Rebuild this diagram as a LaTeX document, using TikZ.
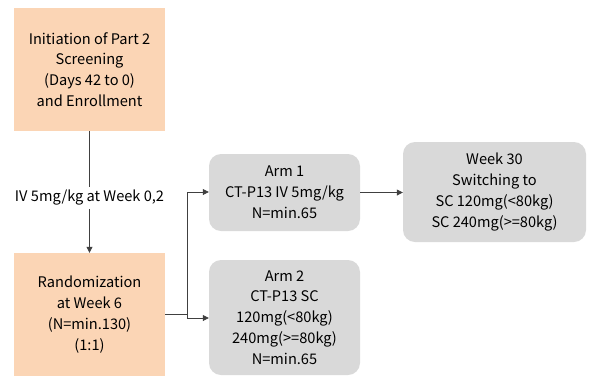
\documentclass[tikz,border=0pt]{standalone}
\usepackage{fontspec}
\setmainfont{Noto Sans CJK KR}
\usetikzlibrary{arrows.meta}
\definecolor{peach}{HTML}{FBD5B5}
\definecolor{lgray}{HTML}{D9D9D9}
\definecolor{linec}{HTML}{404040}
\begin{document}
\begin{tikzpicture}[x=1pt,y=-1pt,
  every node/.style={font=\fontsize{14.6}{20.8}\selectfont, align=center, text=black},
  peachbox/.style={fill=peach, draw=none, inner sep=0pt},
  graybox/.style={fill=lgray, draw=none, rounded corners=12pt, inner sep=0pt},
  conn/.style={draw=linec, line width=0.8pt},
  arr/.style={conn, -{Triangle[length=6pt,width=6pt]}}]
\useasboundingbox (0,0) rectangle (590,376);
\node[peachbox, minimum width=151pt, minimum height=123pt] (init) at (89.5,69.5)
  {Initiation of Part 2\\Screening\\(Days 42 to 0)\\and Enrollment};
\node[inner sep=3pt] (iv) at (89.5,198) {IV 5mg/kg at Week 0,2};
\node[peachbox, minimum width=151pt, minimum height=123pt] (rand) at (89.5,314.5)
  {Randomization\\at Week 6\\(N=min.130)\\(1:1)};
\node[graybox, minimum width=151pt, minimum height=77pt] (arm1) at (284.5,192.5)
  {Arm 1\\CT-P13 IV 5mg/kg\\N=min.65};
\node[graybox, minimum width=151pt, minimum height=115pt] (arm2) at (284.5,317.5)
  {Arm 2\\CT-P13 SC\\120mg(<80kg)\\240mg(>=80kg)\\N=min.65};
\node[graybox, minimum width=183pt, minimum height=100pt] (wk30) at (494.5,192)
  {Week 30\\Switching to\\SC 120mg(<80kg)\\SC 240mg(>=80kg)};
\coordinate (split) at (187,314);
\draw[conn] (init.south) -- (iv.north);
\draw[arr] (iv.south) -- (rand.north);
\draw[conn] (rand.east |- split) -- (split);
\draw[arr] (split) |- (arm1.west |- 0,192);
\draw[arr] (split) |- (arm2.west |- 0,318);
\draw[arr] (arm1.east) -- (wk30.west |- arm1.east);
\end{tikzpicture}
\end{document}
